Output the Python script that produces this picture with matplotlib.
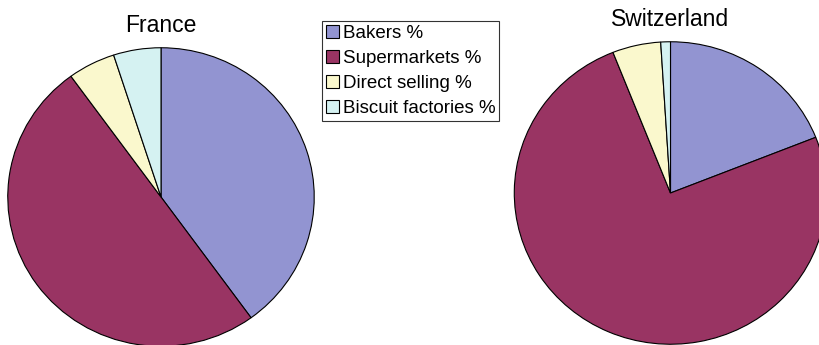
import matplotlib.pyplot as plt

plt.rcParams['font.family'] = ['Liberation Sans', 'DejaVu Sans']

labels = ['Bakers %', 'Supermarkets %', 'Direct selling %', 'Biscuit factories %']
france = [40, 50, 5, 5]
switzerland = [19, 75, 5, 1]
colors = ['#9294D1', '#993463', '#FAF8CD', '#D5F2F2']

W, H = 819, 345
fig = plt.figure(figsize=(W / 100, H / 100), dpi=100)


def pie_axes(cx, cy, rx, ry):
    # cx, cy in pixels from top-left; rx, ry radii in pixels
    return fig.add_axes([(cx - rx) / W, (H - cy - ry) / H, 2 * rx / W, 2 * ry / H])


def draw_pie(ax, values):
    wedges, _ = ax.pie(values, colors=colors, startangle=90, counterclock=False,
                       wedgeprops=dict(edgecolor='black', linewidth=0.8))
    ax.set_aspect('auto')
    ax.set_xlim(-1.005, 1.005)
    ax.set_ylim(-1.005, 1.005)
    ax.axis('off')
    return wedges


ax1 = pie_axes(161, 197, 154, 150)
wedges = draw_pie(ax1, france)
ax2 = pie_axes(670.5, 193, 157, 152)
draw_pie(ax2, switzerland)

fig.text(161 / W, 1 - 26 / H, 'France', ha='center', va='center', fontsize=16.5)
fig.text(670 / W, 1 - 20 / H, 'Switzerland', ha='center', va='center', fontsize=16.5)

leg = fig.legend(wedges, labels, loc='upper left', bbox_to_anchor=(322 / W, 1 - 21 / H),
                 fontsize=13.5, frameon=True, fancybox=False, borderpad=0.2,
                 handlelength=0.7, handleheight=0.7, handletextpad=0.2,
                 labelspacing=0.42, borderaxespad=0)
leg.get_frame().set_edgecolor('black')
leg.get_frame().set_linewidth(0.8)

fig.savefig('out.png', dpi=100)
